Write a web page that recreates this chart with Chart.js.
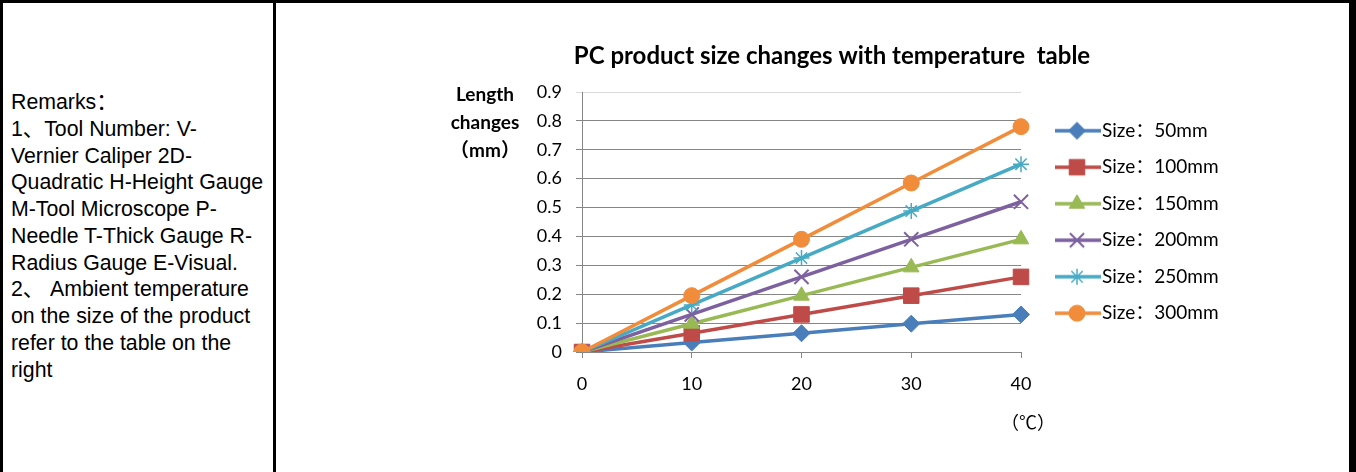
<!DOCTYPE html>
<html>
<head>
<meta charset="utf-8">
<script src="https://cdn.jsdelivr.net/npm/chart.js@4.4.1/dist/chart.umd.min.js"></script>
<style>
  html, body { margin: 0; padding: 0; background: #fff; }
  #page { position: relative; width: 1356px; height: 472px; overflow: hidden; }
  .bar { position: absolute; background: #000; }
  #remarks {
    position: absolute; left: 11px; top: 89px;
    font-family: "Liberation Sans", Arial, "Noto Sans CJK SC", sans-serif;
    font-size: 21.3px; line-height: 26.75px; color: #000; white-space: nowrap;
  }
  #chartBox { position: absolute; left: 276px; top: 3px; width: 1073px; height: 469px; }
</style>
</head>
<body>
<div id="page">
  <div class="bar" style="left:0;top:0;width:1356px;height:3px"></div>
  <div class="bar" style="left:0;top:0;width:3px;height:472px"></div>
  <div class="bar" style="left:273px;top:0;width:3px;height:472px"></div>
  <div class="bar" style="left:1349px;top:0;width:7px;height:472px"></div>
  <div id="remarks">Remarks：<br>1、Tool Number: V-<br>Vernier Caliper 2D-<br>Quadratic H-Height Gauge<br>M-Tool Microscope P-<br>Needle T-Thick Gauge R-<br>Radius Gauge E-Visual.<br>2、 Ambient temperature<br>on the size of the product<br>refer to the table on the<br>right</div>
  <div id="chartBox"><canvas id="sizeChart" width="1073" height="469"></canvas></div>
</div>
<script>
// temperature (°C) categories
const temps = ['0', '10', '20', '30', '40'];
// length change (mm) per product size
const size50  = [0, 0.033, 0.065, 0.098, 0.13];
const size100 = [0, 0.065, 0.13, 0.195, 0.26];
const size150 = [0, 0.098, 0.195, 0.293, 0.39];
const size200 = [0, 0.13, 0.26, 0.39, 0.52];
const size250 = [0, 0.163, 0.325, 0.488, 0.65];
const size300 = [0, 0.195, 0.39, 0.585, 0.78];
const seriesNames = ['Size：50mm', 'Size：100mm', 'Size：150mm', 'Size：200mm', 'Size：250mm', 'Size：300mm'];
const yTickLabels = ['0', '0.1', '0.2', '0.3', '0.4', '0.5', '0.6', '0.7', '0.8', '0.9'];

const FONT = 'Lato, "Noto Sans CJK SC", sans-serif';
const colors = ['#4A7EBB', '#BE4B48', '#98B954', '#7D60A0', '#46AAC5', '#F18C3A'];
const markers = [
  { style: 'rectRot', radius: 8.5, bw: 1 },
  { style: 'rect', radius: 11, bw: 1 },
  { style: 'triangle', radius: 9, bw: 1 },
  { style: 'crossRot', radius: 10, bw: 2 },
  { style: 'star', radius: 8, bw: 1.5 },
  { style: 'circle', radius: 8, bw: 1 }
];
const seriesData = [size50, size100, size150, size200, size250, size300];

// where the plot area should sit inside the canvas
const PLOT_LEFT = 306, PLOT_RIGHT = 745, TITLE_CENTER = 556;

// legend icons: short line with the marker in the middle
const legendIcons = colors.map((c, i) => {
  const cv = document.createElement('canvas');
  cv.width = 71; cv.height = 22;
  const g = cv.getContext('2d');
  g.strokeStyle = c; g.lineWidth = 3.5;
  g.beginPath(); g.moveTo(25, 11); g.lineTo(71, 11); g.stroke();
  g.fillStyle = c; g.strokeStyle = c; g.lineWidth = markers[i].bw;
  Chart.helpers.drawPoint(g, { pointStyle: markers[i].style, radius: markers[i].radius, borderWidth: markers[i].bw, rotation: 0 }, 47, 11);
  return cv;
});

let padRight = 110;
let padLeft = 2 * TITLE_CENTER - 1073 + padRight;

const axisTitles = {
  id: 'axisTitles',
  afterDraw(chart) {
    const { ctx, chartArea } = chart;
    ctx.save();
    ctx.fillStyle = '#000';
    ctx.textAlign = 'center';
    ctx.textBaseline = 'middle';
    ctx.font = 'bold 19px ' + FONT;
    ['Length', 'changes', '（mm）'].forEach((t, i) => {
      ctx.fillText(t, chartArea.left - 97, chartArea.top + 3 + i * 28);
    });
    ctx.font = '18px ' + FONT;
    ctx.fillText('（℃）', chartArea.right + 7, chartArea.bottom + 71);
    ctx.restore();
  }
};

const chart = new Chart(document.getElementById('sizeChart'), {
  type: 'line',
  data: {
    labels: temps,
    datasets: seriesData.map((d, i) => ({
      label: seriesNames[i],
      data: d,
      borderColor: colors[i],
      backgroundColor: colors[i],
      borderWidth: 3.5,
      tension: 0,
      pointStyle: markers[i].style,
      pointRadius: markers[i].radius,
      pointBorderWidth: markers[i].bw,
      pointBackgroundColor: colors[i],
      pointBorderColor: colors[i],
      order: 5 - i
    }))
  },
  options: {
    responsive: false,
    animation: false,
    layout: { padding: { left: padLeft, right: padRight, top: 0, bottom: 0 } },
    plugins: {
      tooltip: { enabled: false },
      title: {
        display: true,
        text: 'PC product size changes with temperature  table',
        color: '#000',
        font: { family: FONT, size: 24, weight: 'bold', lineHeight: 1.2 },
        padding: { top: 38.6, bottom: 21.6 }
      },
      legend: {
        position: 'right',
        fullSize: false,
        maxWidth: 320,
        labels: {
          usePointStyle: true,
          pointStyleWidth: 54,
          padding: 17.5,
          color: '#000',
          font: { family: FONT, size: 19 },
          sort: (a, b) => a.datasetIndex - b.datasetIndex,
          generateLabels: c => Chart.defaults.plugins.legend.labels.generateLabels(c).map(item => {
            item.pointStyle = legendIcons[item.datasetIndex];
            return item;
          })
        }
      }
    },
    scales: {
      x: {
        type: 'category',
        offset: false,
        afterFit: s => { s.height = 120; },
        border: { color: '#868686', width: 1 },
        grid: { drawOnChartArea: false, drawTicks: true, tickLength: 6, color: '#868686' },
        ticks: { color: '#000', padding: 15, maxRotation: 0, font: { family: FONT, size: 18 } }
      },
      y: {
        min: 0,
        max: 0.9,
        afterFit: s => { s.width = PLOT_LEFT - padLeft; },
        border: { color: '#868686', width: 1 },
        grid: {
          color: c => (c.index === 9 ? '#D9D9D9' : '#868686'),
          tickLength: 6
        },
        ticks: {
          stepSize: 0.1,
          color: '#000',
          padding: 14,
          font: { family: FONT, size: 18 },
          callback: (v, i) => yTickLabels[i]
        }
      }
    }
  },
  plugins: [axisTitles]
});

// nudge the right padding so the plot and the title land in place
for (let k = 0; k < 2; k++) {
  padRight = Math.max(0, padRight + (chart.chartArea.right - PLOT_RIGHT));
  padLeft = 2 * TITLE_CENTER - 1073 + padRight;
  chart.options.layout.padding.left = padLeft;
  chart.options.layout.padding.right = padRight;
  chart.update();
}
</script>
</body>
</html>
